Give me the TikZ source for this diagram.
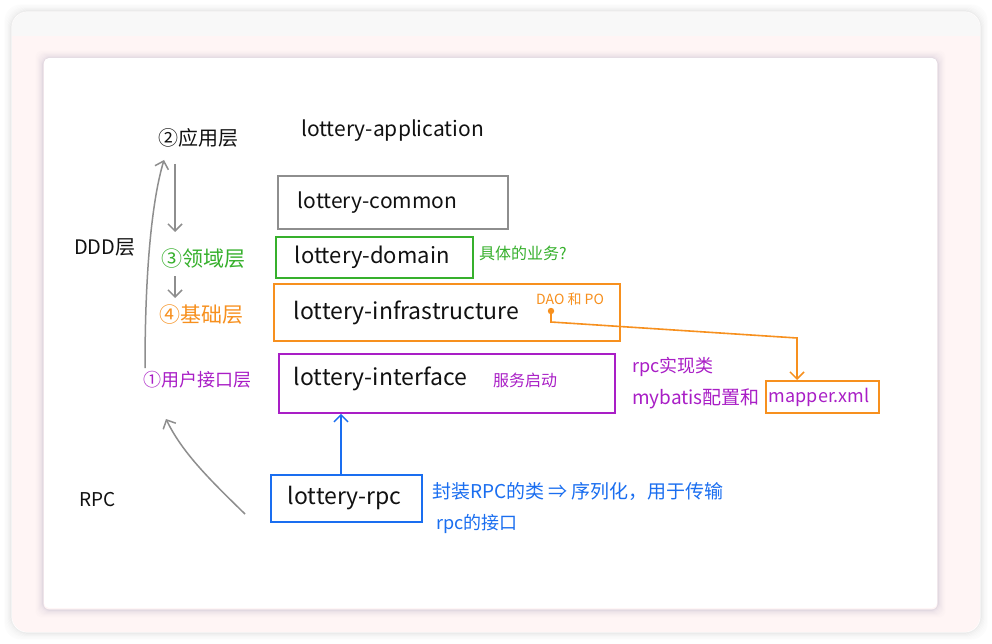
\documentclass[tikz,border=0pt]{standalone}
\usepackage{fontspec}
\setmainfont{Noto Sans CJK SC}
\usetikzlibrary{arrows.meta,calc}
\definecolor{cgray}{HTML}{8E8E8E}
\definecolor{cgreen}{HTML}{36B02C}
\definecolor{corange}{HTML}{F7901E}
\definecolor{cpurple}{HTML}{A91EC6}
\definecolor{cblue}{HTML}{1A6EF0}
\definecolor{cpink}{HTML}{FFF5F5}
\definecolor{cband}{HTML}{F8F8F8}
\definecolor{cink}{HTML}{111111}
\tikzset{
  fs/.style={font=\fontsize{#1}{#1}\selectfont},
  lbl/.style={anchor=west, inner sep=0pt},
  box/.style={draw=#1, line width=1.8pt, anchor=north west, inner ysep=0pt, align=left, text=cink},
  barb/.style={-{Straight Barb[length=7pt,width=14pt,line width=1.5pt]}},
}
\begin{document}
\begin{tikzpicture}[x=1pt,y=-1pt]
\useasboundingbox (0,0) rectangle (992,644);
\fill[white] (0,0) rectangle (992,644);
% outer frame shadow
\foreach \i/\o in {1/0.07,2/0.05,3/0.04,4/0.03,5/0.02,6/0.015,7/0.01}{
  \draw[black, opacity=\o, line width=1.2pt, rounded corners=16] (12-\i,12-\i) rectangle (980+\i,632+\i);
}
\fill[cpink, rounded corners=16] (12,12) rectangle (980,632);
\begin{scope}
  \clip[rounded corners=16] (12,12) rectangle (980,632);
  \fill[cband] (12,12) rectangle (980,36);
\end{scope}
% inner card shadow
\foreach \i/\o in {1/0.10,2/0.07,3/0.05,4/0.04,5/0.03,6/0.02,7/0.012,8/0.008}{
  \draw[black!70!blue, opacity=\o, line width=1.2pt, rounded corners=6] (44-\i,58-\i+1) rectangle (937+\i,608+\i+1);
}
\fill[white, rounded corners=5] (44,58) rectangle (937,608);

% left labels
\node[lbl, fs=20, text=cink] (l2) at (158,138) {②应用层};
\node[lbl, fs=20, text=cink] (ddd) at (74,247) {DDD层};
\node[lbl, fs=21, text=cgreen] (l3) at (161,259) {③领域层};
\node[lbl, fs=21, text=corange] (l4) at (159,315) {④基础层};
\node[lbl, fs=18, text=cpurple] (l1) at (143,380) {①用户接口层};
\node[lbl, fs=19, text=cink] (rpclbl) at (79,500) {RPC};

% modules
\node[lbl, fs=21, text=cink] (app) at (301,131) {lottery-application};
\node[box=cgray, fs=21, minimum width=230pt, minimum height=53pt, text width=190pt, inner xsep=20pt] (common) at (277,175) {lottery-common};
\node[box=cgreen, fs=22, minimum width=197pt, minimum height=41pt, text width=159pt, inner xsep=19pt] (domain) at (275,236) {lottery-domain};
\node[box=corange, fs=23, minimum width=346pt, minimum height=57pt, text width=306pt, inner xsep=20pt] (infra) at (273,283) {lottery-infrastructure};
\node[box=cpurple, fs=23, minimum width=336pt, minimum height=59pt, text width=306pt, inner xsep=15pt] (iface) at (278,353) {\raisebox{14pt}{lottery-interface}};
\node[box=cblue, fs=23, minimum width=151pt, minimum height=47pt, text width=117pt, inner xsep=17pt] (rpc) at (270,474) {lottery-rpc};
\node[box=corange, fs=18, minimum width=113pt, minimum height=32pt, text width=107pt, inner xsep=3pt, text=cpurple] (mapper) at (765,380) {mapper.xml};

% notes
\node[lbl, fs=16, text=cgreen] (dnote) at (479,253) {具体的业务?};
\node[lbl, fs=14, text=corange] (dao) at (536,299) {DAO 和 PO};
\node[lbl, fs=16, text=cpurple] (svc) at (493,380) {服务启动};
\node[lbl, fs=18, text=cpurple] (rpcimpl) at (632,367) {rpc实现类};
\node[lbl, fs=19, text=cpurple] (mybatis) at (632,399) {mybatis配置和};
\node[lbl, fs=19, text=cblue] (b1) at (432,491) {封装RPC的类 ⇒ 序列化，用于传输};
\node[lbl, fs=18, text=cblue] (b2) at (436,524) {rpc的接口};

% connector anchor points
\coordinate (a1s) at (175,164);
\coordinate (a1e) at (175,232);
\coordinate (a2s) at (175,276);
\coordinate (a2e) at (175,298);
\coordinate (upS) at (145,368);
\coordinate (upE) at (164,160);
\coordinate (loS) at (245,514);
\coordinate (loE) at (166,419);
\coordinate (dot) at (551,311);
\coordinate (bend1) at (551,322);
\coordinate (bend2) at (797,338);

% gray arrows
\draw[cgray, line width=1.5pt, barb] (a1s) -- (a1e);
\draw[cgray, line width=1.5pt, barb] (a2s) -- (a2e);
\draw[cgray, line width=1.5pt, barb] (upS) .. controls (145,270) and (152,200) .. (upE);
\draw[cgray, line width=1.5pt, barb] (loS) .. controls (208,478) and (182,452) .. (loE);

% blue arrow
\draw[cblue, line width=1.6pt, barb] (rpc.north -| 341,0) -- (iface.south -| 341,0);

% orange connector
\fill[corange] (dot) circle (3.2pt);
\draw[corange, line width=1.6pt, barb] (dot) -- (bend1) -- (bend2) -- (mapper.north -| bend2);
\end{tikzpicture}
\end{document}
